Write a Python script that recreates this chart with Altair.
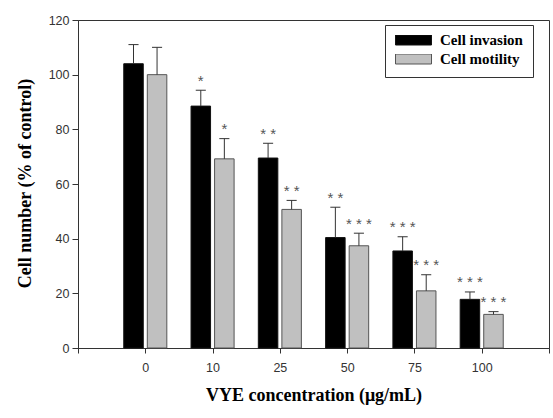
import altair as alt
import pandas as pd

concentrations = ["0", "10", "25", "50", "75", "100"]
series_names = ["Cell invasion", "Cell motility"]
invasion = [104, 88.5, 69.5, 40.4, 35.5, 17.8]
invasion_err = [7, 5.8, 5.4, 11.1, 5.2, 2.7]
invasion_sig = ["", "*", "**", "**", "***", "***"]
motility = [100, 69.2, 50.7, 37.4, 20.9, 12.3]
motility_err = [10, 7.4, 3.3, 4.6, 5.9, 1.0]
motility_sig = ["", "*", "**", "***", "***", "***"]
y_ticks = [0, 20, 40, 60, 80, 100, 120]

SERIF = "'Times New Roman', 'Liberation Serif', 'DejaVu Serif', serif"
SANS = "Arial, 'Liberation Sans', sans-serif"

rows = []
for i, c in enumerate(concentrations):
    rows.append(dict(conc=c, slot=i + 1, series=series_names[0], value=invasion[i],
                     err=invasion_err[i], sig=" ".join(invasion_sig[i])))
    rows.append(dict(conc=c, slot=i + 1, series=series_names[1], value=motility[i],
                     err=motility_err[i], sig=" ".join(motility_sig[i])))
df = pd.DataFrame(rows)

slot_labels = [""] + concentrations + [""]
label_expr = "[" + ",".join("'" + s + "'" for s in slot_labels) + "][datum.value]"

xs = alt.Scale(domain=[0, len(concentrations) + 1], nice=False, zero=False)
ys = alt.Scale(domain=[0, 120], nice=False)

xaxis = alt.Axis(
    values=list(range(len(concentrations) + 2)), labelExpr=label_expr,
    title="VYE concentration (μg/mL)", titleFont=SERIF,
    titleFontWeight="bold", titleFontSize=18, titleColor="black",
    titleX=235.5, titleY=47, titleBaseline="middle",
    labelFont=SANS, labelFontSize=12.5, labelColor="#333",
    tickSize=5, tickColor="#333", domainColor="#333", labelPadding=8,
    grid=False, labelFlush=False,
)
yaxis = alt.Axis(
    values=y_ticks, title="Cell number (% of control)", titleFont=SERIF,
    titleFontWeight="bold", titleFontSize=18, titleColor="black",
    titleX=-53, titleY=163, titleBaseline="middle",
    labelFont=SANS, labelFontSize=12.5, labelColor="#333",
    tickSize=6, tickColor="#333", domainColor="#333", labelPadding=3, grid=False,
)

base = alt.Chart(df).transform_calculate(
    left="datum.slot + (datum.series == 'Cell invasion' ? -0.32 : 0.03)",
).transform_calculate(
    right="datum.left + 0.29",
    mid="datum.left + 0.145",
    top="datum.value + datum.err",
).transform_calculate(
    capl="datum.mid - 0.075",
    capr="datum.mid + 0.075",
)

bars = base.mark_bar(strokeWidth=1).encode(
    x=alt.X("left:Q", scale=xs, axis=xaxis),
    x2="right:Q",
    y=alt.Y("value:Q", scale=ys, axis=yaxis),
    y2=alt.datum(0),
    fill=alt.Fill("series:N", scale=alt.Scale(domain=series_names, range=["#000000", "#c0c0c0"]),
                  legend=alt.Legend(
                      title=None, orient="none", legendX=307, legendY=5, direction="vertical",
                      padding=10, strokeColor="#333", fillColor="white",
                      symbolType="M-1,-0.278L1,-0.278L1,0.278L-1,0.278Z", symbolSize=1296,
                      clipHeight=10, symbolStrokeColor="#333", symbolStrokeWidth=1,
                      labelFont=SERIF, labelFontWeight="bold", labelFontSize=15,
                      labelColor="black", labelOffset=8, rowPadding=4, symbolOpacity=1,
                  )),
    stroke=alt.Stroke("series:N", scale=alt.Scale(domain=series_names, range=["#111111", "#555555"]),
                      legend=None),
)

whisk = base.mark_rule(color="#333", strokeWidth=1).encode(
    x="mid:Q", y="value:Q", y2="top:Q"
)
caps = base.mark_rule(color="#333", strokeWidth=1).encode(
    x="capl:Q", x2="capr:Q", y="top:Q"
)
stars = base.mark_text(baseline="alphabetic", dy=-4.5, fontSize=15, color="#555",
                       font=SANS).encode(
    x="mid:Q", y="top:Q", text="sig:N"
)

chart = alt.layer(bars, whisk, caps, stars).properties(
    width=471, height=328,
    padding={"left": 78, "top": 20, "right": 4, "bottom": 70},
    autosize=alt.AutoSizeParams(type="none"),
    background="white",
).configure_view(stroke="#333", strokeWidth=1)

chart.save("out.html", embed_options={"renderer": "svg", "actions": False})
